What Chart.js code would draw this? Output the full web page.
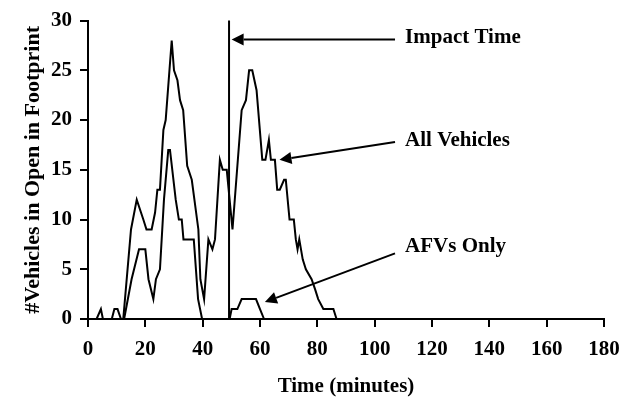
<!DOCTYPE html>
<html lang="en">
<head>
<meta charset="UTF-8">
<title>Vehicles in Open in Footprint</title>
<script src="https://cdn.jsdelivr.net/npm/chart.js"></script>
<style>
    body {
        margin: 0;
        background: #fff;
    }

    #box {
        width: 630px;
        height: 401px;
    }
</style>
</head>
<body>
<div id="box"><canvas id="footprintChart" width="630" height="401"></canvas></div>

<script>
    // All vehicles: time (min) / count
    const allTime = [0, 3, 4.5, 5.2, 8.3, 9.2, 10.3, 11.5, 12.3, 15, 17, 19.3, 20.4, 22.2, 23.4, 24.2, 25.1,
        26.3, 27.1, 29.2, 30, 31.2, 32.1, 33.2, 34.6, 36.2, 38.5, 39.2, 40.5, 42, 43.4, 44.3, 46, 47, 48.4,
        50.4, 53.6, 55.1, 56.2, 57.3, 58.8, 60.8, 61.9, 63.1, 63.8, 65.2, 66, 66.9, 68.4, 69, 70.3, 71.8,
        72.5, 73.1, 73.7, 74.9, 76, 78, 79.2, 80.3, 82.1, 85.6, 86.7];
    const allCount = [0, 0, 1, 0, 0, 1, 1, 0, 0, 9, 12, 10, 9, 9, 10.7, 13, 13,
        19, 20, 28, 25, 24, 22, 21, 15.4, 14, 9, 4, 2, 8, 7, 8, 16, 15, 15,
        9, 21, 22, 25, 25, 23, 16, 16, 18, 16, 16, 13, 13, 14, 14, 10, 10,
        8, 7, 8, 6, 5, 4, 3, 2, 1, 1, 0];

    // AFVs only
    const afvTime = [0, 12.6, 15.2, 17.8, 20, 21.1, 22.8, 23.7, 25.1, 26.5, 28, 28.6, 30.6, 31.7, 32.7, 33.3,
        36.9, 38.4, 39.8, 49.4, 50.1, 52.1, 53.6, 58.6, 60, 61.4];
    const afvCount = [0, 0, 4, 7, 7, 4, 2, 4, 5, 12, 17, 17, 12, 10, 10, 8,
        8, 2, 0, 0, 1, 1, 2, 2, 1, 0];

    const impactTime = 49.2;

    const xTicks = [0, 20, 40, 60, 80, 100, 120, 140, 160, 180];
    const yTicks = [0, 5, 10, 15, 20, 25, 30];

    const serif = '"Liberation Serif", "Times New Roman", serif';

    // callouts: arrow from tail to tip, label left-aligned at label (data coords)
    const notes = [
        {text: 'Impact Time', tip: [50.1, 28.1], tail: [107.1, 28.1], label: [110.6, 28.3]},
        {text: 'All Vehicles', tip: [66.8, 16.0], tail: [107.1, 17.8], label: [110.6, 17.9]},
        {text: 'AFVs Only', tip: [61.7, 1.7], tail: [107.1, 6.6], label: [110.6, 7.3]}
    ];

    const toPoints = (xs, ys) => xs.map((t, i) => ({x: t, y: ys[i]}));

    const arrowNotes = {
        id: 'arrowNotes',
        afterDatasetsDraw(chart) {
            const {ctx, scales: {x, y}} = chart;
            ctx.save();
            ctx.strokeStyle = '#000';
            ctx.fillStyle = '#000';
            ctx.lineWidth = 2;
            ctx.font = 'bold 21px ' + serif;
            ctx.textBaseline = 'middle';
            ctx.textAlign = 'left';
            notes.forEach(n => {
                const x0 = x.getPixelForValue(n.tail[0]), y0 = y.getPixelForValue(n.tail[1]);
                const x1 = x.getPixelForValue(n.tip[0]), y1 = y.getPixelForValue(n.tip[1]);
                const a = Math.atan2(y1 - y0, x1 - x0);
                const bx = x1 - 12 * Math.cos(a), by = y1 - 12 * Math.sin(a);
                ctx.beginPath();
                ctx.moveTo(x0, y0);
                ctx.lineTo(bx, by);
                ctx.stroke();
                ctx.beginPath();
                ctx.moveTo(x1, y1);
                ctx.lineTo(bx + 6 * Math.sin(a), by - 6 * Math.cos(a));
                ctx.lineTo(bx - 6 * Math.sin(a), by + 6 * Math.cos(a));
                ctx.closePath();
                ctx.fill();
                ctx.fillText(n.text, x.getPixelForValue(n.label[0]), y.getPixelForValue(n.label[1]));
            });
            ctx.restore();
        }
    };

    const axisGrid = {
        display: true,
        drawOnChartArea: false,
        drawTicks: true,
        tickLength: 8,
        color: '#000',
        lineWidth: 2
    };

    new Chart(document.getElementById('footprintChart'), {
        type: 'line',
        data: {
            datasets: [{
                label: 'All Vehicles',
                data: toPoints(allTime, allCount),
                borderColor: '#000',
                borderWidth: 2
            }, {
                label: 'AFVs Only',
                data: toPoints(afvTime, afvCount),
                borderColor: '#000',
                borderWidth: 2
            }, {
                label: 'Impact Time',
                data: [{x: impactTime, y: 0}, {x: impactTime, y: 30}],
                borderColor: '#000',
                borderWidth: 2
            }]
        },
        options: {
            responsive: false,
            animation: false,
            clip: false,
            elements: {
                point: {radius: 0},
                line: {tension: 0, fill: false}
            },
            layout: {padding: {left: 0, right: 26, top: 15, bottom: 0}},
            plugins: {
                legend: {display: false},
                tooltip: {enabled: false}
            },
            scales: {
                x: {
                    type: 'linear',
                    min: 0,
                    max: 180,
                    afterBuildTicks: s => { s.ticks = xTicks.map(v => ({value: v})); },
                    afterFit: s => { s.height = 82; },
                    grid: axisGrid,
                    border: {display: true, color: '#000', width: 2},
                    ticks: {
                        color: '#000',
                        padding: 10,
                        maxRotation: 0,
                        font: {family: serif, size: 21, weight: 'bold'}
                    },
                    title: {
                        display: true,
                        text: 'Time (minutes)',
                        color: '#000',
                        padding: {top: 0, bottom: 2},
                        font: {family: serif, size: 21, weight: 'bold', lineHeight: 1.2}
                    }
                },
                y: {
                    type: 'linear',
                    min: 0,
                    max: 30,
                    afterBuildTicks: s => { s.ticks = yTicks.map(v => ({value: v})); },
                    afterFit: s => { s.width = 88; },
                    grid: axisGrid,
                    border: {display: true, color: '#000', width: 2},
                    ticks: {
                        color: '#000',
                        padding: 8,
                        font: {family: serif, size: 21, weight: 'bold'}
                    },
                    title: {
                        display: true,
                        text: '#Vehicles in Open in Footprint',
                        color: '#000',
                        padding: {top: 20, bottom: 0},
                        font: {family: serif, size: 22, weight: 'bold', lineHeight: 1.2}
                    }
                }
            }
        },
        plugins: [arrowNotes]
    });
</script>
</body>
</html>
